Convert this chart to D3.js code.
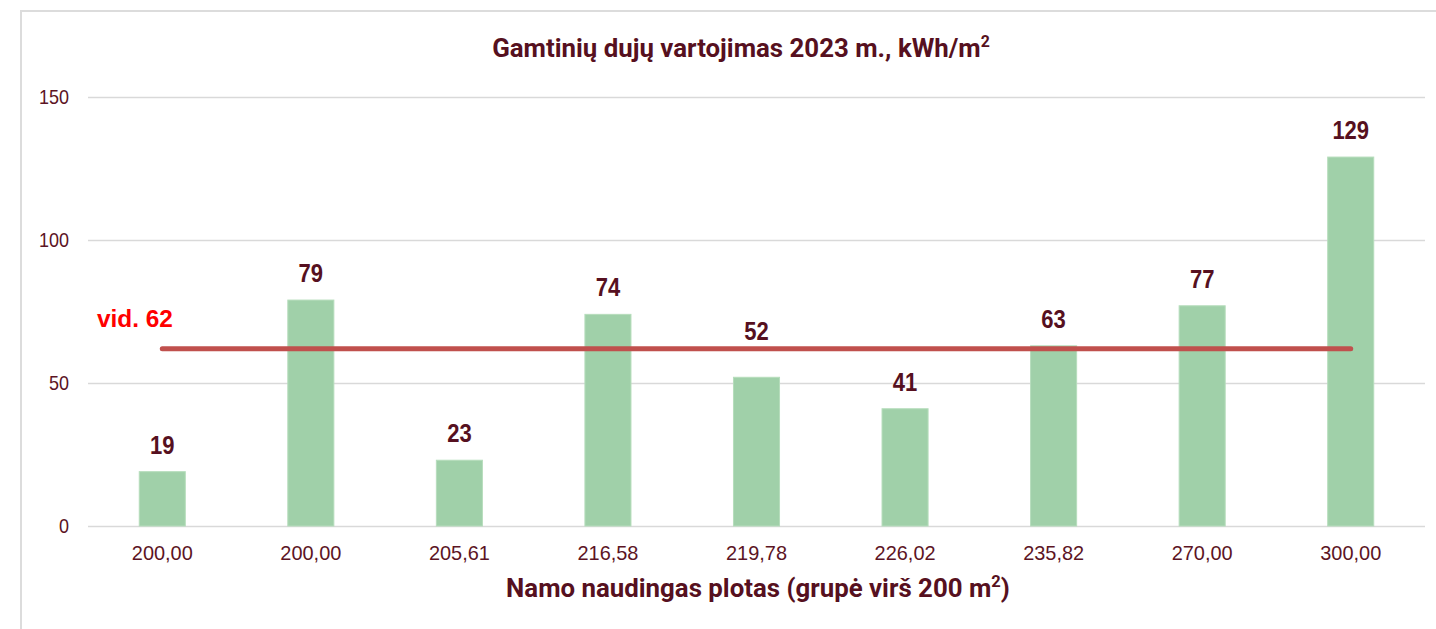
<!DOCTYPE html>
<html>
<head>
<meta charset="utf-8">
<script src="https://cdn.jsdelivr.net/npm/d3@7"></script>
<style>
  body { margin: 0; background: #fff; }
  svg { display: block; font-family: "Liberation Sans", Arial, sans-serif; }
  .cond { font-family: "Roboto", "Liberation Sans", sans-serif; }
</style>
</head>
<body>
<svg width="1436" height="629"></svg>
<script>
//-- data --//
const areas = ["200,00", "200,00", "205,61", "216,58", "219,78", "226,02", "235,82", "270,00", "300,00"];
const usage = [19, 79, 23, 74, 52, 41, 63, 77, 129];
const average = 62;
const yTicks = [0, 50, 100, 150];

const width = 1436, height = 629;
const margin = {top: 97, right: 11, bottom: 103, left: 88};
const textColor = "#5c1424";
const titleColor = "#561020";

const svg = d3.select("svg");

//-- squeeze a text horizontally around its own anchor (the source font is a condensed one)
function squeeze(sel, sx) {
    sel.each(function() {
        const t = d3.select(this);
        const tx = +t.attr("x") || 0, ty = +t.attr("y") || 0;
        t.attr("transform", `translate(${tx},${ty}) scale(${sx},1) translate(${-tx},${-ty})`);
    });
}
function fitWidth(sel, target) {
    const w = sel.node().getComputedTextLength();
    squeeze(sel, target / w);
}

// frame
svg.append("path")
    .attr("d", `M21,${height} V11 H${width}`)
    .attr("fill", "none")
    .attr("stroke", "#dcdcdc")
    .attr("stroke-width", 2);

const x = d3.scaleBand()
    .domain(d3.range(areas.length))
    .range([margin.left, width - margin.right])
    .paddingInner(0.69)
    .paddingOuter(0.345);

const y = d3.scaleLinear()
    .domain([0, 150])
    .range([height - margin.bottom, margin.top]);

// grid + y labels
const yAxis = g => g
    .attr("transform", `translate(${margin.left},0)`)
    .call(d3.axisLeft(y).tickValues(yTicks).tickSize(0).tickPadding(19))
    .call(g => g.select(".domain").remove())
    .call(g => g.selectAll(".tick line").clone()
        .attr("x2", width - margin.left - margin.right)
        .attr("stroke", "#d9d9d9")
        .attr("stroke-width", 1.5))
    .call(g => g.selectAll(".tick text")
        .attr("fill", textColor)
        .style("font-size", "20px")
        .style("font-family", "Liberation Sans, Arial, sans-serif")
        .call(squeeze, 0.9));

svg.append("g").call(yAxis);

const xAxis = g => g
    .attr("transform", `translate(0,${height - margin.bottom})`)
    .call(d3.axisBottom(x).tickFormat(i => areas[i]).tickSize(0).tickPadding(19))
    .call(g => g.select(".domain").remove())
    .call(g => g.selectAll(".tick text")
        .attr("fill", textColor)
        .style("font-size", "21px")
        .style("font-family", "Liberation Sans, Arial, sans-serif")
        .call(squeeze, 0.95));

svg.append("g").call(xAxis);

// bars
svg.append("g")
    .selectAll("rect")
    .data(usage)
    .join("rect")
    .attr("x", (d, i) => x(i))
    .attr("y", d => y(d))
    .attr("width", x.bandwidth())
    .attr("height", d => y(0) - y(d))
    .attr("fill", "#a0d0a9")
    .attr("stroke", "#b6ddbc")
    .attr("stroke-width", 1);

// value labels -- lifted above the average line when they would sit on it
const labelY = d => {
    const base = y(d) - 18;
    const lineY = y(average);
    return (base > lineY - 9 && base - 18 < lineY + 3) ? lineY - 9 : base;
};

svg.append("g")
    .selectAll("text")
    .data(usage)
    .join("text")
    .attr("x", (d, i) => x(i) + x.bandwidth() / 2)
    .attr("y", labelY)
    .attr("text-anchor", "middle")
    .attr("fill", titleColor)
    .style("font-size", "25px")
    .style("font-weight", "bold")
    .text(d => d)
    .call(squeeze, 0.88);

// average line
const first = x(0) + x.bandwidth() / 2;
const last = x(areas.length - 1) + x.bandwidth() / 2;
svg.append("line")
    .attr("x1", first)
    .attr("x2", last)
    .attr("y1", y(average))
    .attr("y2", y(average))
    .attr("stroke", "#c0504d")
    .attr("stroke-width", 5)
    .attr("stroke-linecap", "round");

svg.append("text")
    .attr("x", 97)
    .attr("y", y(average) - 22)
    .attr("fill", "#ff0000")
    .style("font-size", "24px")
    .style("font-weight", "bold")
    .text("vid. " + average)
    .call(fitWidth, 76);

// titles
const title = svg.append("text")
    .attr("class", "cond")
    .attr("x", 741)
    .attr("y", 57)
    .attr("text-anchor", "middle")
    .attr("fill", titleColor)
    .style("font-size", "26px")
    .style("font-weight", "bold")
    .text("Gamtinių dujų vartojimas 2023 m., kWh/m");
title.append("tspan").attr("dy", -10).style("font-size", "16px").text("2");
title.call(fitWidth, 498);

const xTitle = svg.append("text")
    .attr("class", "cond")
    .attr("x", 758)
    .attr("y", 597)
    .attr("text-anchor", "middle")
    .attr("fill", titleColor)
    .style("font-size", "25px")
    .style("font-weight", "bold")
    .text("Namo naudingas plotas (grupė virš 200 m");
xTitle.append("tspan").attr("dy", -10).style("font-size", "16px").text("2");
xTitle.append("tspan").attr("dy", 10).text(")");
xTitle.call(fitWidth, 504);
</script>
</body>
</html>
